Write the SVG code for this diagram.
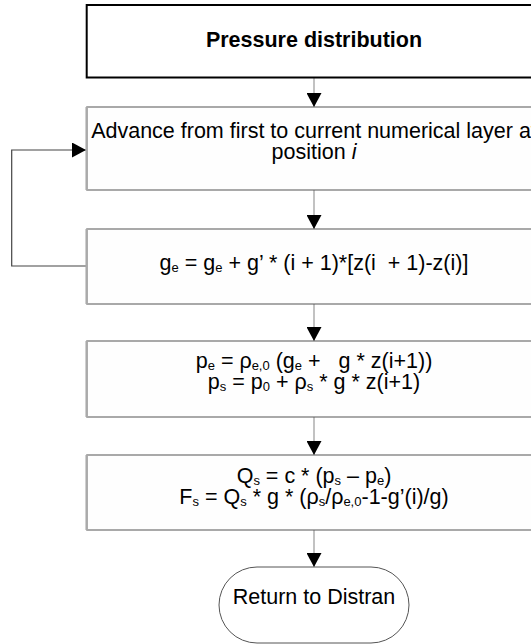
<svg xmlns="http://www.w3.org/2000/svg" width="531" height="644" viewBox="0 0 531 644">
<style>
  .t{font-family:"Liberation Sans",Arial,sans-serif;font-size:21.5px;fill:#000;text-anchor:middle;white-space:pre}
  .b{font-weight:bold}
  .s{font-size:13px}
  .box{fill:#fefefe;stroke:#555;stroke-width:1}
  .edge{stroke:#aaa;stroke-width:2.5}
  .shaft{stroke:#999;stroke-width:1.2;fill:none}
  .loop{stroke:#444;stroke-width:1.2;fill:none}
</style>
<defs>
  <marker id="ah" viewBox="0 0 14 15" refX="14" refY="7.5" markerWidth="14" markerHeight="15" markerUnits="userSpaceOnUse" orient="auto">
    <path d="M0,0 L14,7.5 L0,15 Z" fill="#000"/>
  </marker>
</defs>
<rect width="531" height="644" fill="#fff"/>
<g id="connectors">
  <line class="shaft" x1="314" y1="78" x2="314" y2="107" marker-end="url(#ah)"/>
  <line class="shaft" x1="314" y1="190" x2="314" y2="229" marker-end="url(#ah)"/>
  <line class="shaft" x1="314" y1="304" x2="314" y2="341" marker-end="url(#ah)"/>
  <line class="shaft" x1="314" y1="417" x2="314" y2="455" marker-end="url(#ah)"/>
  <line class="shaft" x1="314" y1="530" x2="314" y2="567" marker-end="url(#ah)"/>
  <path class="loop" d="M86.5,266 H11.7 V150 H86" marker-end="url(#ah)"/>
</g>
<g id="n_title">
  <rect x="86.7" y="5" width="460" height="72.5" fill="#fff" stroke="#000" stroke-width="2"/>
  <text class="t b" x="314" y="47">Pressure distribution</text>
</g>
<g id="n_advance">
  <rect class="box" x="86.7" y="107" width="460" height="83"/>
  <line class="edge" x1="86.7" y1="107" x2="86.7" y2="190"/>
  <text class="t" x="314" y="138">Advance from first to current numerical layer at</text>
  <text class="t" x="314" y="159">position <tspan font-style="italic">i</tspan></text>
</g>
<g id="n_ge">
  <rect class="box" x="86.7" y="229" width="460" height="75"/>
  <line class="edge" x1="86.7" y1="229" x2="86.7" y2="304"/>
  <text class="t" x="314" y="270">g<tspan class="s" dy="2">e</tspan><tspan dy="-2"> = g</tspan><tspan class="s" dy="2">e</tspan><tspan dy="-2"> + g’ * (i + 1)*[z(i  + 1)-z(i)]</tspan></text>
</g>
<g id="n_pressure">
  <rect class="box" x="86.7" y="341" width="460" height="76"/>
  <line class="edge" x1="86.7" y1="341" x2="86.7" y2="417"/>
  <text class="t" x="314" y="368">p<tspan class="s" dy="2">e</tspan><tspan dy="-2"> = ρ</tspan><tspan class="s" dy="2">e,0</tspan><tspan dy="-2"> (g</tspan><tspan class="s" dy="2">e</tspan><tspan dy="-2"> +   g * z(i+1))</tspan></text>
  <text class="t" x="314" y="389">p<tspan class="s" dy="2">s</tspan><tspan dy="-2"> = p</tspan><tspan class="s" dy="2">0</tspan><tspan dy="-2"> + ρ</tspan><tspan class="s" dy="2">s</tspan><tspan dy="-2"> * g * z(i+1)</tspan></text>
</g>
<g id="n_flux">
  <rect class="box" x="86.7" y="455" width="460" height="75"/>
  <line class="edge" x1="86.7" y1="455" x2="86.7" y2="530"/>
  <text class="t" x="314" y="483">Q<tspan class="s" dy="2">s</tspan><tspan dy="-2"> = c * (p</tspan><tspan class="s" dy="2">s</tspan><tspan dy="-2"> – p</tspan><tspan class="s" dy="2">e</tspan><tspan dy="-2">)</tspan></text>
  <text class="t" x="314" y="504">F<tspan class="s" dy="2">s</tspan><tspan dy="-2"> = Q</tspan><tspan class="s" dy="2">s</tspan><tspan dy="-2"> * g * (ρ</tspan><tspan class="s" dy="2">s</tspan><tspan dy="-2">/ρ</tspan><tspan class="s" dy="2">e,0</tspan><tspan dy="-2">-1-g’(i)/g)</tspan></text>
</g>
<g id="n_return">
  <rect x="219" y="567" width="190" height="76" rx="38" ry="38" fill="#fff" stroke="#555" stroke-width="1"/>
  <text class="t" x="314" y="604">Return to Distran</text>
</g>
</svg>
